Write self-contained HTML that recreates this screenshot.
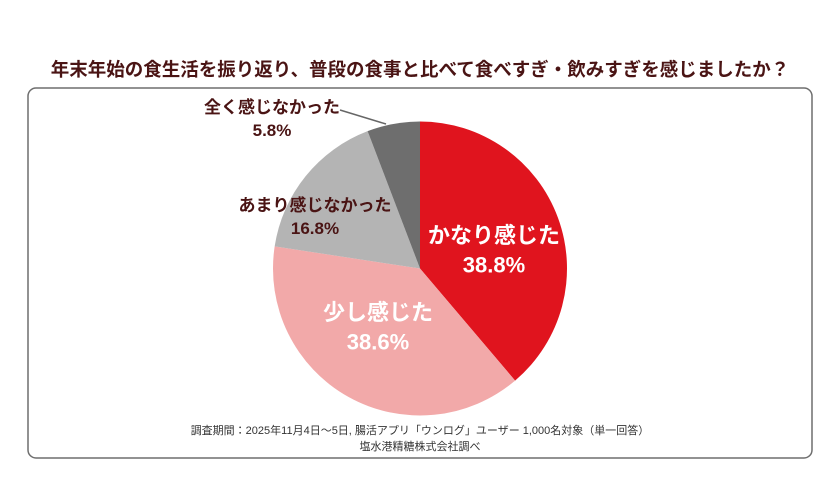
<!DOCTYPE html>
<html><head><meta charset="utf-8"><style>
body{margin:0;width:840px;height:473px;background:#fff;overflow:hidden;font-family:"Liberation Sans","Noto Sans CJK JP",sans-serif}
</style></head><body>
<svg width="840" height="473">
<text x="420" y="76" text-anchor="middle" font-size="18.5" font-weight="bold" fill="#4a1414" font-family="Liberation Sans, Noto Sans CJK JP, sans-serif">年末年始の食生活を振り返り、普段の食事と比べて食べすぎ・飲みすぎを感じましたか？</text>
<rect x="28" y="88" width="784" height="370" rx="8" fill="#fff" stroke="#6e6e6e" stroke-width="1.5"/>
<g id="pie"></g>
<line x1="340" y1="110" x2="386" y2="124" stroke="#666" stroke-width="1.5"/>
<text x="420" y="434" text-anchor="middle" font-size="11" fill="#333" font-family="Liberation Sans, Noto Sans CJK JP, sans-serif">調査期間：2025年11月4日〜5日, 腸活アプリ「ウンログ」ユーザー 1,000名対象（単一回答）</text>
<text x="420" y="450" text-anchor="middle" font-size="11" fill="#333" font-family="Liberation Sans, Noto Sans CJK JP, sans-serif">塩水港精糖株式会社調べ</text>
</svg>
<script>
const categories=["かなり感じた","少し感じた","あまり感じなかった","全く感じなかった"];
const values=[38.8,38.6,16.8,5.8];
const colors=["#e0141e","#f2a9a9","#b4b4b4","#6e6e6e"];
const cx=420,cy=268.5,r=147;
const g=document.getElementById('pie');
const total=values.reduce((a,b)=>a+b,0);
let a0=-Math.PI/2;
const ns="http://www.w3.org/2000/svg";
values.forEach((v,i)=>{
 const a1=a0+v/total*2*Math.PI;
 const p=document.createElementNS(ns,'path');
 const large=(a1-a0)>Math.PI?1:0;
 p.setAttribute('d',`M${cx},${cy}L${cx+r*Math.cos(a0)},${cy+r*Math.sin(a0)}A${r},${r} 0 ${large} 1 ${cx+r*Math.cos(a1)},${cy+r*Math.sin(a1)}Z`);
 p.setAttribute('fill',colors[i]);
 
 
 g.appendChild(p);
 a0=a1;
});
const labelPos=[[494,243,"#fff",22],[378,320,"#fff",22],[315,211,"#4a1414",17],[272,113,"#4a1414",17]];
values.forEach((v,i)=>{
 const [x,y,c,fs]=labelPos[i];
 const t=document.createElementNS(ns,'text');
 t.setAttribute('x',x);t.setAttribute('y',y);t.setAttribute('text-anchor','middle');
 t.setAttribute('font-size',fs);t.setAttribute('font-weight','bold');t.setAttribute('fill',c);
 t.setAttribute('font-family','Liberation Sans, Noto Sans CJK JP, sans-serif');
 
 
 const s1=document.createElementNS(ns,'tspan');s1.setAttribute('x',x);s1.textContent=categories[i];
 const s2=document.createElementNS(ns,'tspan');s2.setAttribute('x',x);s2.setAttribute('dy',fs*1.35);s2.textContent=v.toFixed(1)+'%';
 t.appendChild(s1);t.appendChild(s2);
 document.querySelector('svg').appendChild(t);
});
</script>
</body></html>
